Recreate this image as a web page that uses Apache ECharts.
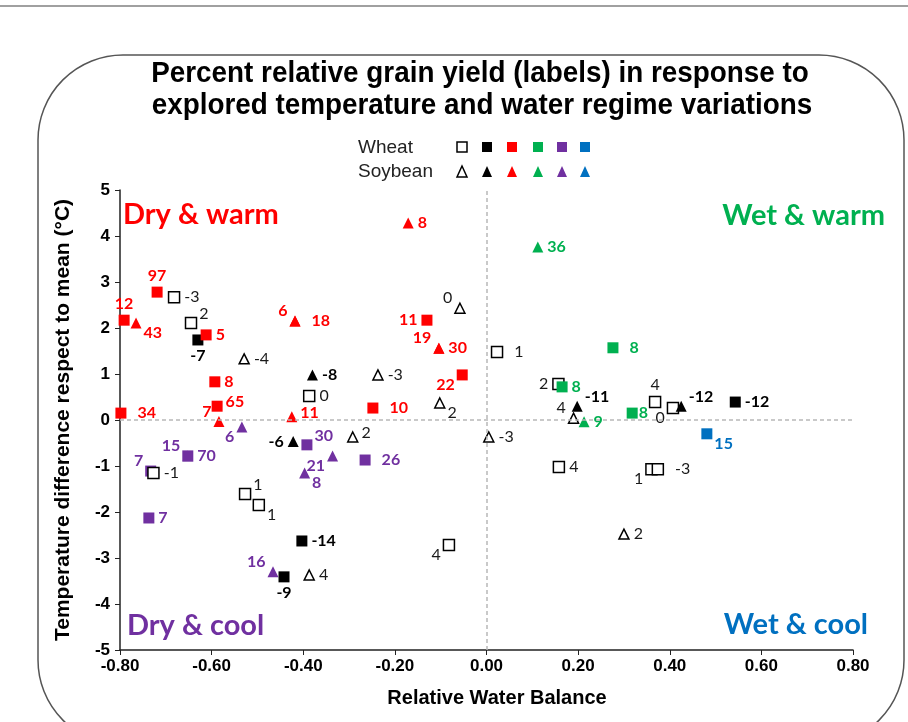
<!DOCTYPE html>
<html><head><meta charset="utf-8">
<script src="https://cdn.jsdelivr.net/npm/echarts@6/dist/echarts.min.js"></script>
<style>html,body{margin:0;padding:0;background:#fff}#c{width:908px;height:722px}</style>
</head><body><div id="c"></div>
<script>
// ---------- DATA ----------
// Wheat (squares)
const wheatOpen = [[-0.682,2.67],[-0.645,2.11],[-0.387,0.52],[0.023,1.48],[0.157,0.78],[0.368,0.39],[0.407,0.26],[-0.727,-1.15],[-0.527,-1.61],[-0.497,-1.85],[-0.082,-2.72],[0.158,-1.02],[0.360,-1.07],[0.374,-1.07]];
const wheatOpenLabels = ['-3','2','0','1','2','4','0','-1','1','1','4','4','1','-3'];
const wheatBlack = [[-0.630,1.74],[-0.403,-2.63],[-0.442,-3.41],[0.543,0.39]];
const wheatBlackLabels = ['-7','-14','-9','-12'];
const wheatRed = [[-0.719,2.78],[-0.791,2.17],[-0.612,1.85],[-0.593,0.83],[-0.588,0.30],[-0.798,0.15],[-0.130,2.17],[-0.053,0.98],[-0.248,0.26]];
const wheatRedLabels = ['97','12','5','8','65','34','11','22','10'];
const wheatGreen = [[0.276,1.57],[0.165,0.72],[0.318,0.15]];
const wheatGreenLabels = ['8','8','8'];
const wheatPurple = [[-0.652,-0.78],[-0.733,-1.11],[-0.737,-2.13],[-0.392,-0.54],[-0.265,-0.87]];
const wheatPurpleLabels = ['70','7','7','30','26'];
const wheatBlue = [[0.481,-0.30]];
const wheatBlueLabels = ['15'];
// Soybean (triangles)
const soyOpen = [[-0.058,2.43],[-0.529,1.33],[-0.237,0.98],[-0.102,0.37],[-0.292,-0.37],[0.005,-0.37],[0.190,0.04],[-0.387,-3.37],[0.300,-2.48]];
const soyOpenLabels = ['0','-4','-3','2','2','-3','4','4','2'];
const soyBlack = [[-0.380,0.98],[-0.422,-0.47],[0.198,0.30],[0.425,0.30]];
const soyBlackLabels = ['-8','-6','-11','-12'];
const soyRed = [[-0.765,2.11],[-0.171,4.28],[-0.418,2.15],[-0.418,2.15],[-0.104,1.56],[-0.104,1.56],[-0.425,0.07],[-0.584,-0.03]];
const soyRedLabels = ['43','8','6','18','19','30','11','7'];
const soyGreen = [[0.112,3.76],[0.213,-0.04]];
const soyGreenLabels = ['36','9'];
const soyPurple = [[-0.652,-0.78],[-0.534,-0.15],[-0.336,-0.78],[-0.397,-1.15],[-0.466,-3.30]];
const soyPurpleLabels = ['15','6','21','8','16'];
const soyBlue = [];
const soyBlueLabels = [];

// ---------- LABEL PLACEMENT (style) ----------
const wheatOpenPlace = ['r','tr','r','r2','l','t','bl','r','tr','br','bl','r','bl','r2'];
const wheatBlackPlace = ['b','r','b','r'];
const wheatRedPlace = ['t','t','r','r','ru','r2','l','bl','r2'];
const wheatGreenPlace = ['r2','r','r0'];
const wheatPurplePlace = ['r','tl','r','tr','r2'];
const wheatBluePlace = ['br'];
const soyOpenPlace = ['tl','r','r','br','ru','r','tl','r','r'];
const soyBlackPlace = ['r','l','tr','tr'];
const soyRedPlace = ['br','r','tl','r2','tl','r','ru','tl'];
const soyGreenPlace = ['r','r'];
const soyPurplePlace = ['tl','bl','bl','br','tl'];
const soyBluePlace = [];

const C = {black:'#000000', red:'#ff0000', green:'#00b050', purple:'#7030a0', blue:'#0070c0'};

const placeMap = {
  r:{position:'right',distance:4}, r0:{position:'right',distance:1}, r2:{position:'right',distance:11},
  ru:{position:'right',distance:3,offset:[0,-4]},
  l:{position:'left',distance:4}, t:{position:'top',distance:3}, b:{position:'bottom',distance:2},
  tl:{position:'left',distance:2,offset:[0,-10]}, tr:{position:'right',distance:2,offset:[0,-9]},
  bl:{position:'left',distance:2,offset:[0,10]}, br:{position:'right',distance:2,offset:[0,10]}
};

function mk(name, pts, labels, places, symbol, fill, stroke, lblColor, bold, size){
  return {
    name, type:'scatter', symbol, symbolSize:size,
    itemStyle:{color:fill, borderColor:stroke, borderWidth: fill==='#ffffff'?1.5:0, opacity:1},
    label:{show:true, formatter:'{b}', color:lblColor, fontFamily:'Lato', fontSize:16, fontWeight:bold?'bold':'normal'},
    emphasis:{disabled:true},
    data: pts.map((p,i)=>({name:labels[i], value:p, label:Object.assign({}, placeMap[places[i]])}))
  };
}

const series = [
  mk('soyPurple', soyPurple, soyPurpleLabels, soyPurplePlace, 'triangle', C.purple, C.purple, C.purple, true, 11),
  mk('wheatPurple', wheatPurple, wheatPurpleLabels, wheatPurplePlace, 'rect', C.purple, C.purple, C.purple, true, 11),
  mk('wheatOpen', wheatOpen, wheatOpenLabels, wheatOpenPlace, 'rect', '#ffffff', '#000', '#1a1a1a', false, 11),
  mk('soyOpen', soyOpen, soyOpenLabels, soyOpenPlace, 'triangle', '#ffffff', '#000', '#1a1a1a', false, 10),
  mk('wheatBlack', wheatBlack, wheatBlackLabels, wheatBlackPlace, 'rect', C.black, C.black, C.black, true, 11),
  mk('wheatRed', wheatRed, wheatRedLabels, wheatRedPlace, 'rect', C.red, C.red, C.red, true, 11),
  mk('soyRed', soyRed, soyRedLabels, soyRedPlace, 'triangle', C.red, C.red, C.red, true, 11),
  mk('soyBlack', soyBlack, soyBlackLabels, soyBlackPlace, 'triangle', C.black, C.black, C.black, true, 11),
  mk('wheatGreen', wheatGreen, wheatGreenLabels, wheatGreenPlace, 'rect', C.green, C.green, C.green, true, 11),
  mk('soyGreen', soyGreen, soyGreenLabels, soyGreenPlace, 'triangle', C.green, C.green, C.green, true, 11),
  mk('wheatBlue', wheatBlue, wheatBlueLabels, wheatBluePlace, 'rect', C.blue, C.blue, C.blue, true, 11),
  mk('soyBlue', soyBlue, soyBlueLabels, soyBluePlace, 'triangle', C.blue, C.blue, C.blue, true, 11)
];
series[0].markLine = {
  silent:true, symbol:'none', label:{show:false}, animation:false,
  lineStyle:{type:[4,3], color:'#b8b8b8', width:1.5},
  data:[{xAxis:0},{yAxis:0}]
};

// ---------- LEGEND (graphic) ----------
const legendX = [462,487,512,538,562,585];
const legendFill = ['#ffffff', C.black, C.red, C.green, C.purple, C.blue];
const graphics = [
  {type:'line', shape:{x1:0,y1:6,x2:908,y2:6}, style:{stroke:'#a0a0a0', lineWidth:2}},
  {type:'rect', shape:{x:38,y:55,width:866,height:690,r:85}, style:{fill:null, stroke:'#555', lineWidth:1.5}},
  {type:'text', x:480, y:74, scaleX:0.96, style:{text:'Percent relative grain yield (labels) in response to', font:'bold 29px "Liberation Sans"', fill:'#000', textAlign:'center', textVerticalAlign:'middle'}},
  {type:'text', x:482, y:106, scaleX:0.96, style:{text:'explored temperature and water regime variations', font:'bold 29px "Liberation Sans"', fill:'#000', textAlign:'center', textVerticalAlign:'middle'}},
  {type:'text', x:358, y:148, style:{text:'Wheat', font:'19px "Liberation Sans"', fill:'#222', textVerticalAlign:'middle'}},
  {type:'text', x:358, y:172, style:{text:'Soybean', font:'19px "Liberation Sans"', fill:'#222', textVerticalAlign:'middle'}},
  {type:'text', x:123, y:215, style:{text:'Dry & warm', font:'bold 29px Lato', fill:C.red, textVerticalAlign:'middle'}},
  {type:'text', x:885, y:216, style:{text:'Wet & warm', font:'bold 29px Lato', fill:C.green, textAlign:'right', textVerticalAlign:'middle'}},
  {type:'text', x:127, y:626, style:{text:'Dry & cool', font:'bold 29px Lato', fill:C.purple, textVerticalAlign:'middle'}},
  {type:'text', x:868, y:625, style:{text:'Wet & cool', font:'bold 29px Lato', fill:C.blue, textAlign:'right', textVerticalAlign:'middle'}},
  {type:'text', x:497, y:698, style:{text:'Relative Water Balance', font:'bold 20px "Liberation Sans"', fill:'#000', textAlign:'center', textVerticalAlign:'middle'}}
];
legendX.forEach((x,i)=>{
  graphics.push({type:'rect', shape:{x:x-5,y:142,width:10,height:10}, style:{fill:legendFill[i], stroke:i===0?'#000':legendFill[i], lineWidth:i===0?1.5:0}});
  graphics.push({type:'polygon', shape:{points:[[x,166],[x+5,177],[x-5,177]]}, style:{fill:legendFill[i], stroke:i===0?'#000':legendFill[i], lineWidth:i===0?1.5:0}});
});

const chart = echarts.init(document.getElementById('c'), null, {renderer:'canvas'});
chart.setOption({
  animation:false,
  backgroundColor:'#fff',
  grid:{left:120, top:190, width:733, height:460, containLabel:false},
  xAxis:{type:'value', min:-0.8, max:0.8, interval:0.2,
    axisLine:{onZero:false, lineStyle:{color:'#222', width:1.5}},
    axisTick:{show:true, length:5, lineStyle:{color:'#222'}},
    splitLine:{show:false},
    axisLabel:{formatter:v=>v.toFixed(2), fontFamily:'Liberation Sans', fontWeight:'bold', fontSize:17, color:'#000', margin:8}},
  yAxis:{type:'value', min:-5, max:5, interval:1,
    name:'Temperature difference respect to mean (°C)', nameLocation:'middle', nameGap:46, nameRotate:90,
    nameTextStyle:{fontFamily:'Liberation Sans', fontWeight:'bold', fontSize:21, color:'#000'},
    axisLine:{onZero:false, lineStyle:{color:'#222', width:1.5}},
    axisTick:{show:true, length:5, lineStyle:{color:'#222'}},
    splitLine:{show:false},
    axisLabel:{fontFamily:'Liberation Sans', fontWeight:'bold', fontSize:17, color:'#000', margin:10}},
  series,
  graphic:graphics
});
</script></body></html>
